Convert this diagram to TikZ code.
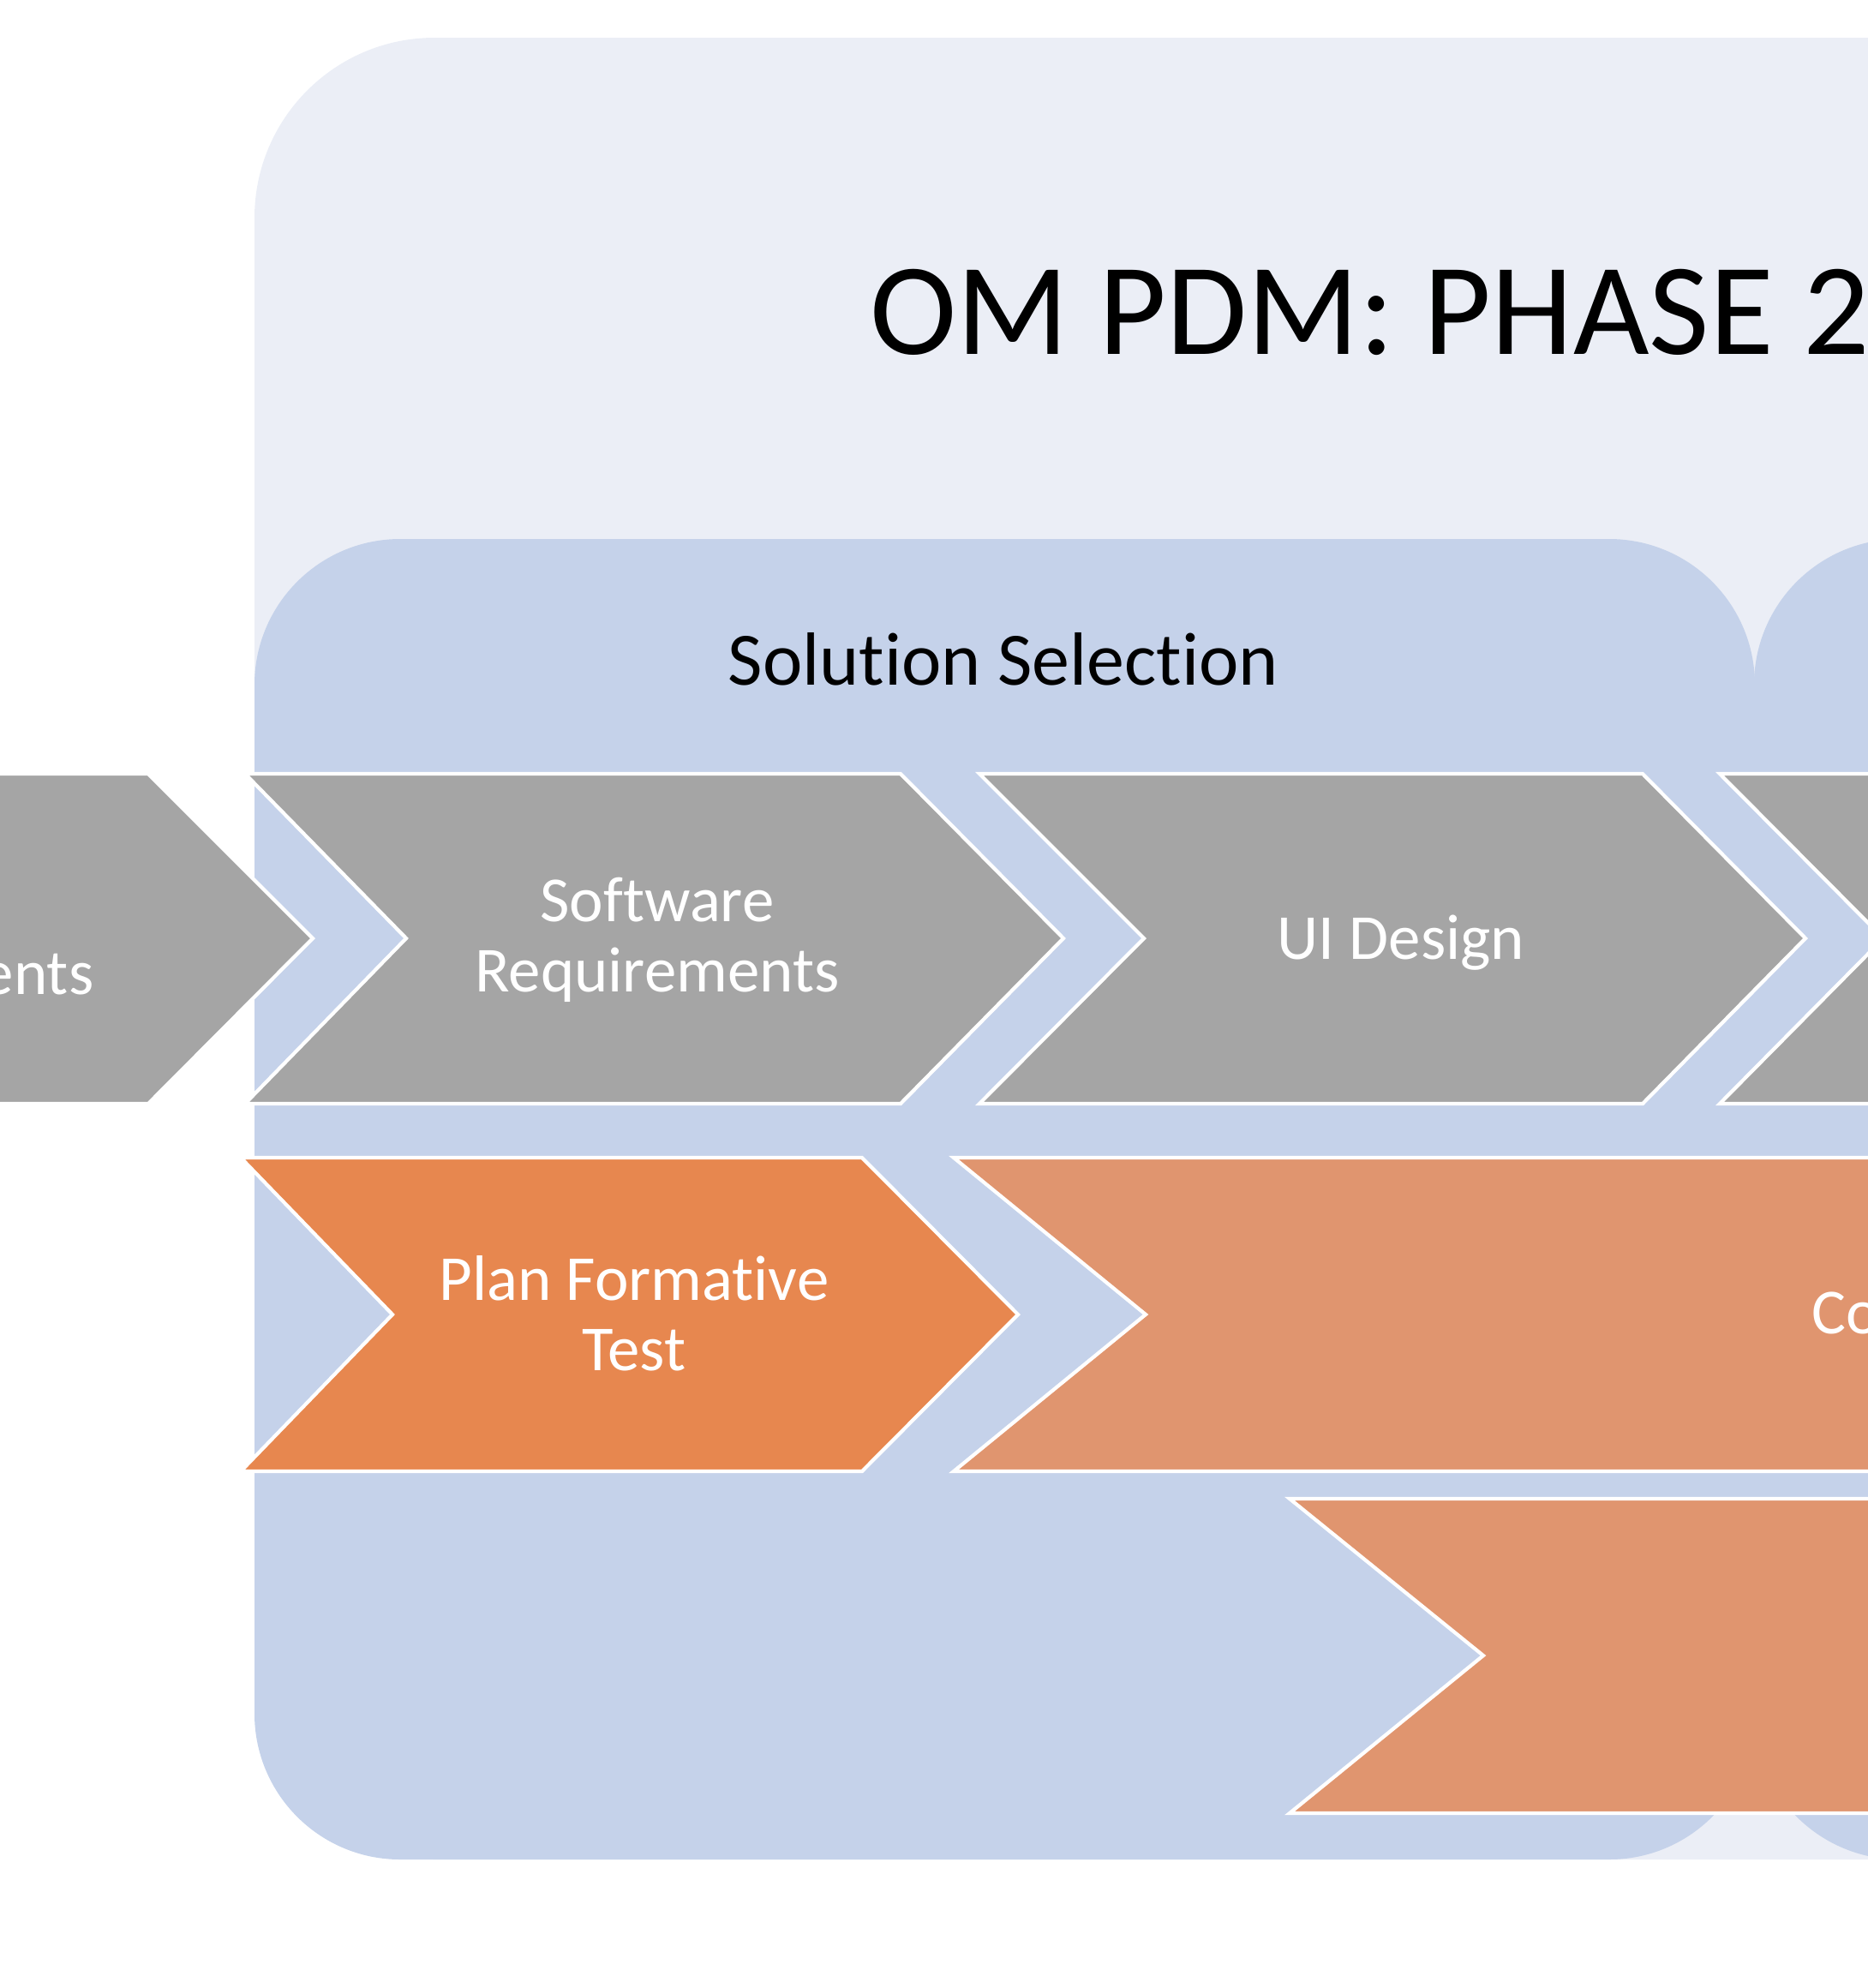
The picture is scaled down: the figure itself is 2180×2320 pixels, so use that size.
\documentclass[tikz,border=0pt]{standalone}
\usepackage{fontspec}
\setmainfont{Carlito}[Ligatures=NoCommon]
\definecolor{paneback}{HTML}{EBEEF6}
\definecolor{panefront}{HTML}{C5D2EA}
\definecolor{stepgray}{HTML}{A5A5A5}
\definecolor{steporange}{HTML}{E7874F}
\definecolor{stepsalmon}{HTML}{E0956F}

\begin{document}
\begin{tikzpicture}[x=0.01cm, y=-0.01cm,
        chev/.style={draw=white, line width=1.2pt},
        steptext/.style={text=white, align=center, inner sep=0pt, font=\fontsize{21.3pt}{23.3pt}\selectfont}]

        \useasboundingbox (0, 0) rectangle (2180, 2320);
        \clip (0, 0) rectangle (2180, 2320);

        \fill[paneback, rounded corners=2.1cm] (297, 44) rectangle (2600, 2170);
        \fill[panefront, rounded corners=1.7cm] (297, 629) rectangle (2048, 2170);
        \fill[panefront, rounded corners=1.7cm] (2047, 629) rectangle (3400, 2170);

        \draw[chev, fill=stepgray] (-200, 903) -- (173, 903) -- (365, 1095) -- (173, 1288) -- (-200, 1288) -- cycle;
        \draw[chev, fill=stepgray] (286, 903) -- (1051, 903) -- (1241, 1095) -- (1051, 1288) -- (286, 1288) -- (474, 1095) -- cycle;
        \draw[chev, fill=stepgray] (1143, 903) -- (1917, 903) -- (2107, 1095) -- (1917, 1288) -- (1143, 1288) -- (1335, 1095) -- cycle;
        \draw[chev, fill=stepgray] (2007, 903) -- (2400, 903) -- (2400, 1288) -- (2007, 1288) -- (2198, 1095) -- cycle;

        \draw[chev, fill=steporange] (281, 1351) -- (1006, 1351) -- (1188, 1534) -- (1006, 1717) -- (281, 1717) -- (458, 1534) -- cycle;
        \draw[chev, fill=stepsalmon] (1113, 1351) -- (2400, 1351) -- (2400, 1717) -- (1113, 1717) -- (1337, 1534) -- cycle;
        \draw[chev, fill=stepsalmon] (1505, 1749) -- (2400, 1749) -- (2400, 2116) -- (1505, 2116) -- (1731, 1932) -- cycle;

        \node (title) at (1015, 413) [anchor=base west, inner sep=0pt, font=\fontsize{43.5pt}{50pt}\selectfont] {OM PDM: PHASE 2};
        \node (head-1) at (1171, 799) [anchor=base, inner sep=0pt, font=\fontsize{25pt}{30pt}\selectfont] {Solution Selection};

        \node (1-0) at (110, 1160) [steptext, anchor=base east] {ents};
        \node (1-1) at (767, 1097) [steptext] {Software\\Requirements};
        \node (1-2) at (1635, 1119) [steptext, anchor=base] {UI Design};

        \node (2-1) at (740, 1533) [steptext] {Plan Formative\\Test};
        \node (2-2) at (2114, 1556) [steptext, anchor=base west] {Co};

    \end{tikzpicture}
\end{document}
